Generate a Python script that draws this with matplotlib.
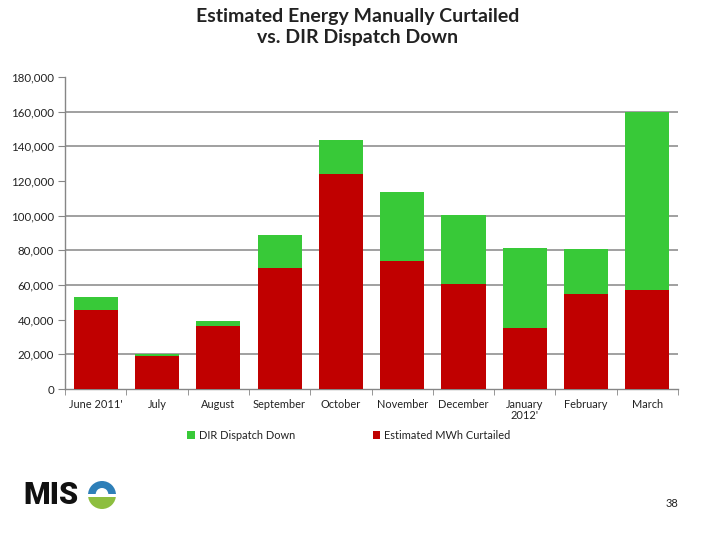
import numpy as np
import matplotlib
matplotlib.use("Agg")
import matplotlib.pyplot as plt
from matplotlib.patches import Wedge, Rectangle

months = ["June 2011'", "July", "August", "September", "October",
          "November", "December", "January\n2012'", "February", "March"]
curtailed = [45500, 19000, 36300, 69800, 124000, 73900, 60600, 35200, 54800, 57100]
dir_down = [7500, 1000, 2900, 19000, 19700, 39800, 39800, 46100, 26000, 102900]
grid_levels = [20000, 60000, 80000, 100000, 140000, 160000]

red = "#C00000"
green = "#38C938"
gray = "#868686"

plt.rcParams['font.family'] = ['Lato', 'DejaVu Sans']

fig = plt.figure(figsize=(7.2, 5.4), dpi=100)
ax = fig.add_axes([0.0903, 0.2796, 0.8514, 0.5778])

x = np.arange(len(months))
ax.bar(x, curtailed, width=0.72, color=red, zorder=3, label="Estimated MWh Curtailed")
ax.bar(x, dir_down, width=0.72, bottom=curtailed, color=green, zorder=3, label="DIR Dispatch Down")

for g in grid_levels:
    ax.axhline(g, color=gray, lw=1.1, zorder=1)

ax.set_xlim(-0.5, len(months) - 0.5)
ax.set_ylim(0, 180000)
ax.set_yticks(np.arange(0, 180001, 20000))
ax.set_yticklabels([f"{v:,}" for v in range(0, 180001, 20000)], fontsize=8.3, color='#222222')
ax.set_xticks(x)
ax.set_xticklabels(months, fontsize=7.9, linespacing=1.05, color='#222222')
ax.set_xticks(np.arange(-0.5, len(months), 1), minor=True)
ax.tick_params(axis='x', which='major', length=0, pad=7)
ax.tick_params(axis='x', which='minor', length=4, color=gray, direction='out')
ax.tick_params(axis='y', length=5, color=gray, direction='out', pad=3)

for s in ['top', 'right']:
    ax.spines[s].set_visible(False)
for s in ['left', 'bottom']:
    ax.spines[s].set_color(gray)
    ax.spines[s].set_linewidth(1.0)

handles, labels = ax.get_legend_handles_labels()
ax.legend(handles[::-1], labels[::-1], loc='upper center', bbox_to_anchor=(0.463, -0.1),
          ncol=2, frameon=False, fontsize=7.9, handlelength=0.7, handleheight=0.7,
          columnspacing=7.1, handletextpad=0.35, labelcolor='#222222')

fig.text(0.497, 0.985, "Estimated Energy Manually Curtailed\nvs. DIR Dispatch Down",
         ha='center', va='top', fontsize=14, fontweight='bold', color='#222222', linespacing=1.3)

# footer logo
fig.text(0.033, 0.083, "MIS", ha='left', va='center', fontsize=22, fontweight='heavy',
         family=['Roboto', 'DejaVu Sans'], color='#111111')
lax = fig.add_axes([88 / 720, 1 - 509 / 540, 28 / 720, 28 / 540])
lax.set_xlim(-1, 1)
lax.set_ylim(-1, 1)
lax.set_aspect('equal')
lax.axis('off')
lax.add_patch(Wedge((0, 0), 1, 0, 180, facecolor='#2E7FB8', edgecolor='none'))
lax.add_patch(Wedge((0, 0), 1, 180, 360, facecolor='#8DBE3F', edgecolor='none'))
lax.add_patch(Wedge((0, 0.05), 0.45, 0, 180, facecolor='white', edgecolor='none'))
lax.add_patch(Rectangle((-1, -0.12), 2, 0.17, facecolor='white', edgecolor='none'))
fig.text(0.933, 0.068, "38", ha='center', va='center', fontsize=8, color='#222222')

fig.savefig("out.png", dpi=100)
